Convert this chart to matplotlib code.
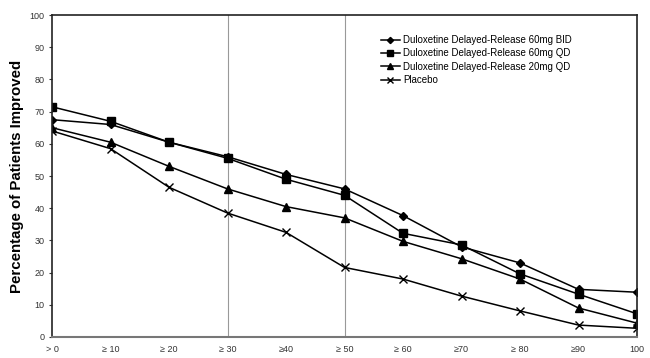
import matplotlib.pyplot as plt

plt.rcParams["font.family"] = ["Liberation Sans", "DejaVu Sans"]

# categories on the x axis
labels = ["> 0", "≥ 10", "≥ 20", "≥ 30", "≥40", "≥ 50", "≥ 60", "≥70", "≥ 80", "≥90", "100"]

# percentage of patients improved
bid_60 = [67.5, 66, 60.5, 56, 50.5, 46, 37.7, 28, 23, 14.8, 13.9]
qd_60 = [71.5, 67, 60.5, 55.5, 49, 44, 32.2, 28.6, 19.6, 13.3, 7.2]
qd_20 = [65, 60.5, 53, 46, 40.5, 37, 29.7, 24.3, 18, 9, 4.3]
placebo = [64, 58.5, 46.5, 38.5, 32.5, 21.6, 18, 12.7, 8.1, 3.7, 2.7]

fig = plt.figure(figsize=(6.5, 3.58), dpi=100)
ax = fig.add_axes([0.08, 0.0587, 0.9, 0.8993])

x = list(range(len(labels)))

# vertical reference lines at >= 30 and >= 50
for xv in (3, 5):
    ax.axvline(xv, color="#999999", lw=0.8, zorder=0)

ax.plot(x, bid_60, color="black", lw=1.1, marker="D", ms=4.5, label="Duloxetine Delayed-Release 60mg BID")
ax.plot(x, qd_60, color="black", lw=1.1, marker="s", ms=5.5, label="Duloxetine Delayed-Release 60mg QD")
ax.plot(x, qd_20, color="black", lw=1.1, marker="^", ms=5.5, label="Duloxetine Delayed-Release 20mg QD")
ax.plot(x, placebo, color="black", lw=1.1, marker="x", ms=6, mew=1.0, label="Placebo")

ax.set_xlim(0, 10)
ax.set_ylim(0, 100)
ax.set_yticks(range(0, 101, 10))
ax.set_xticks(x)
ax.set_xticklabels(labels)
ax.tick_params(axis="both", labelsize=6.5, colors="#333333", length=2)
ax.tick_params(axis="x", length=0, pad=6)

for side in ["left", "top", "right"]:
    ax.spines[side].set_color("#222222")
    ax.spines[side].set_linewidth(1.2)
ax.spines["bottom"].set_color("#777777")
ax.spines["bottom"].set_linewidth(1.5)

ax.set_ylabel("Percentage of Patients Improved", fontsize=10.8, fontweight="bold", labelpad=4)

leg = ax.legend(loc="upper left", bbox_to_anchor=(0.555, 0.95), frameon=False, fontsize=7,
                handlelength=2.0, handletextpad=0.3, labelspacing=0.35, borderaxespad=0,
                markerscale=0.7)

plt.savefig("out.png", dpi=100)
